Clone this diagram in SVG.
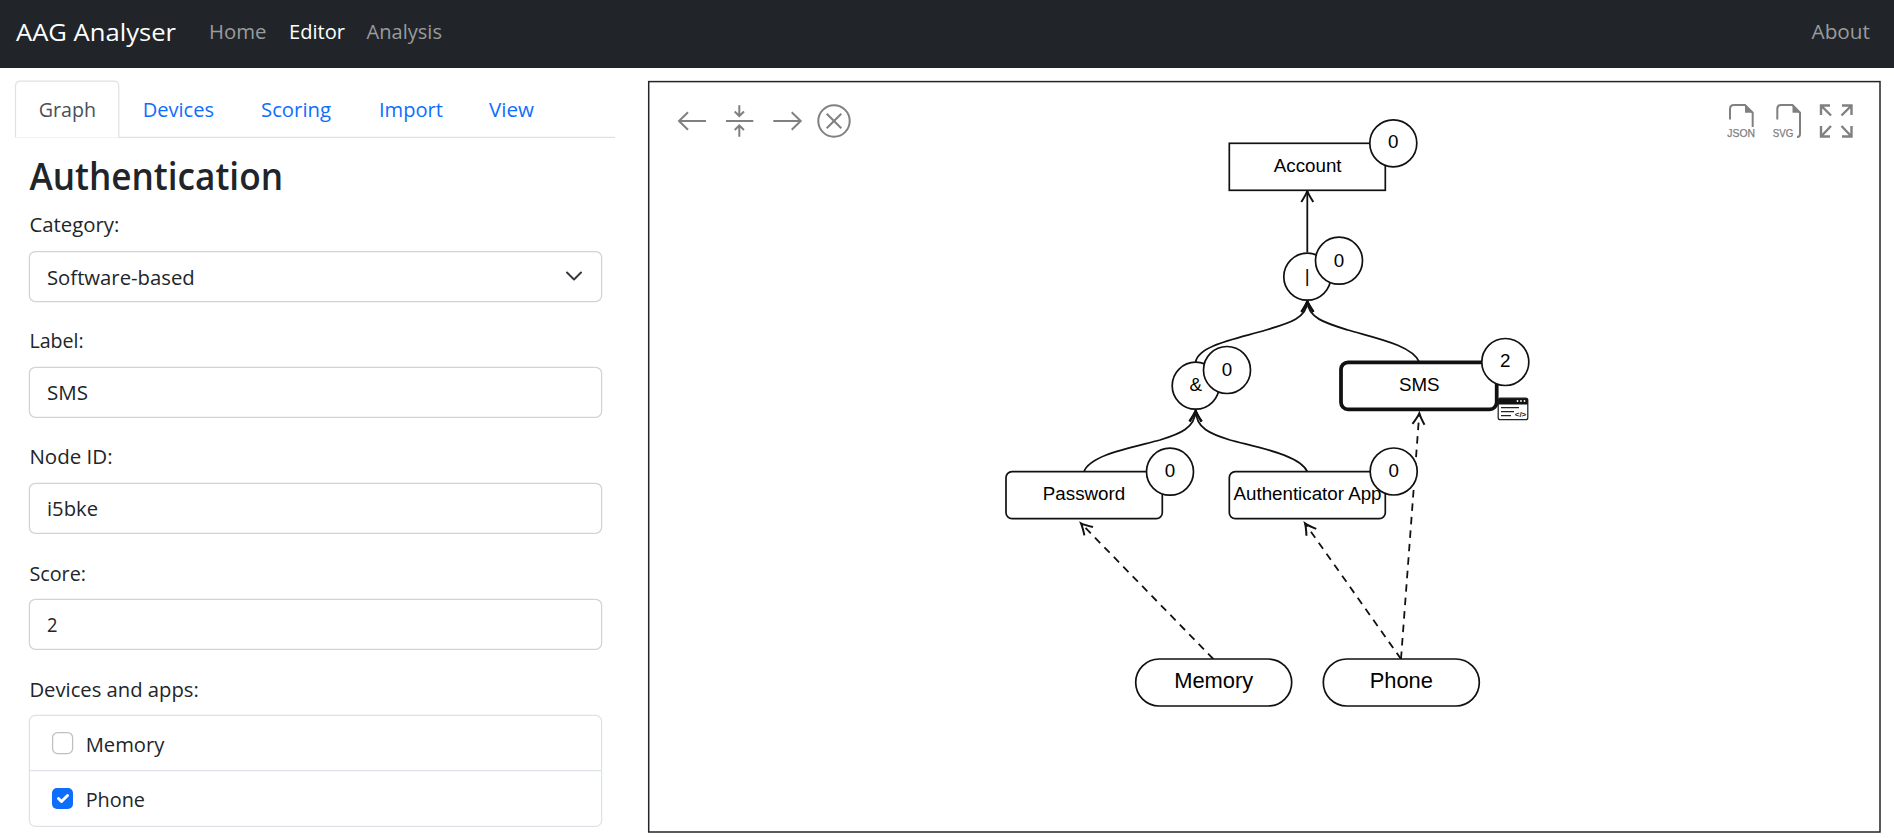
<svg xmlns="http://www.w3.org/2000/svg" width="1894" height="838" viewBox="0 0 1894 838">
<style>
.ui{font-family:"Open Sans","Noto Sans","Liberation Sans",sans-serif;font-size:19.6px;fill:#212529}
.nav{fill:#9a9b9d}
.tab{fill:#0d6efd}
.box{fill:#fff;stroke:#ced4da;stroke-width:1.25}
.ic{fill:none;stroke:#808080;stroke-width:2}
.icf{fill:#808080}
.ict{font-family:"Liberation Sans",Arial,sans-serif;font-size:10.5px;fill:#808080;stroke:#808080;stroke-width:.25}
.n{fill:#fff;stroke:#111;stroke-width:1.7}
.t{font-family:"Liberation Sans",Arial,sans-serif;font-size:18.75px;fill:#000;text-anchor:middle}
.t2{font-size:21.9px}
.e{fill:none;stroke:#111;stroke-width:1.8;marker-end:url(#a)}
.d{stroke-dasharray:7.5 6}
</style>
<defs>
<marker id="a" markerUnits="userSpaceOnUse" markerWidth="30" markerHeight="30" refX="15" refY="15" orient="auto" overflow="visible">
<path d="M4,9 Q11,13.5 15,15 Q11,16.5 4,21" fill="none" stroke="#111" stroke-width="2"/>
</marker>
</defs>
<rect width="1894" height="838" fill="#fff"/>
<g id="navbar">
<rect width="1894" height="68" fill="#212529"/>
<text class="ui" x="16" y="40.5" style="font-size:24.5px;fill:#fff" textLength="160" lengthAdjust="spacingAndGlyphs">AAG Analyser</text>
<text class="ui nav" x="209" y="39" textLength="57.5" lengthAdjust="spacingAndGlyphs">Home</text>
<text class="ui" x="289" y="39" style="fill:#fff" textLength="56" lengthAdjust="spacingAndGlyphs">Editor</text>
<text class="ui nav" x="366.5" y="39" textLength="75.5" lengthAdjust="spacingAndGlyphs">Analysis</text>
<text class="ui nav" x="1811.5" y="39.3" textLength="58.5" lengthAdjust="spacingAndGlyphs">About</text>
</g>
<g id="tabs">
<path d="M15.5,137.3 H615" fill="none" stroke="#dee2e6" stroke-width="1.25"/>
<path d="M15.5,137.5 V86 Q15.5,81 20.5,81 H113.8 Q118.8,81 118.8,86 V137.5" fill="#fff" stroke="#dee2e6" stroke-width="1.25"/>
<text class="ui" x="38.8" y="117" style="fill:#495057" textLength="57.2" lengthAdjust="spacingAndGlyphs">Graph</text>
<text class="ui tab" x="142.7" y="117" textLength="71.3" lengthAdjust="spacingAndGlyphs">Devices</text>
<text class="ui tab" x="261" y="117" textLength="70" lengthAdjust="spacingAndGlyphs">Scoring</text>
<text class="ui tab" x="379" y="117" textLength="64" lengthAdjust="spacingAndGlyphs">Import</text>
<text class="ui tab" x="489" y="117" textLength="45" lengthAdjust="spacingAndGlyphs">View</text>
</g>
<g id="form">
<text class="ui" x="29.4" y="190" style="font-size:38.5px;font-weight:600" textLength="253.6" lengthAdjust="spacingAndGlyphs">Authentication</text>
<text class="ui" x="29.4" y="231.7" textLength="90" lengthAdjust="spacingAndGlyphs">Category:</text>
<rect class="box" x="29.4" y="251.5" width="572.2" height="50" rx="6"/>
<text class="ui" x="47" y="285" textLength="147.7" lengthAdjust="spacingAndGlyphs">Software-based</text>
<path d="M567,272.5 L574,279.5 L581,272.5" fill="none" stroke="#343a40" stroke-width="2" stroke-linecap="round" stroke-linejoin="round"/>
<text class="ui" x="29.4" y="348" textLength="54.3" lengthAdjust="spacingAndGlyphs">Label:</text>
<rect class="box" x="29.4" y="367.3" width="572.2" height="50" rx="6"/>
<text class="ui" x="47" y="400" textLength="41" lengthAdjust="spacingAndGlyphs">SMS</text>
<text class="ui" x="29.4" y="463.7" textLength="83.2" lengthAdjust="spacingAndGlyphs">Node ID:</text>
<rect class="box" x="29.4" y="483.3" width="572.2" height="50" rx="6"/>
<text class="ui" x="47" y="516" textLength="51" lengthAdjust="spacingAndGlyphs">i5bke</text>
<text class="ui" x="29.4" y="581" textLength="56.6" lengthAdjust="spacingAndGlyphs">Score:</text>
<rect class="box" x="29.4" y="599.3" width="572.2" height="50" rx="6"/>
<text class="ui" x="47" y="632" textLength="10.5" lengthAdjust="spacingAndGlyphs">2</text>
<text class="ui" x="29.4" y="696.6" textLength="169.4" lengthAdjust="spacingAndGlyphs">Devices and apps:</text>
<rect x="29.4" y="715.4" width="572.2" height="111" rx="6" fill="#fff" stroke="#dee2e6" stroke-width="1.25"/>
<path d="M29.4,770.7 H601.6" stroke="#dee2e6" stroke-width="1.25"/>
<rect x="52.6" y="732.6" width="20" height="21" rx="5" fill="#fff" stroke="#bfbfbf" stroke-width="1.25"/>
<text class="ui" x="85.7" y="752" textLength="78.6" lengthAdjust="spacingAndGlyphs">Memory</text>
<rect x="52" y="788" width="21" height="21" rx="5" fill="#0d6efd"/>
<path d="M58.5,798.5 l3,3 6,-6" fill="none" stroke="#fff" stroke-width="3" stroke-linecap="round" stroke-linejoin="round"/>
<text class="ui" x="85.7" y="806.7" textLength="59.3" lengthAdjust="spacingAndGlyphs">Phone</text>
</g>
<rect id="canvas" x="648.7" y="81.6" width="1231.3" height="750.4" fill="#fff" stroke="#212529" stroke-width="1.5"/>
<g id="toolbar-left">
<path class="ic" d="M679,121 H706 M688,112.3 L679,121 L688,129.7"/>
<path class="ic" d="M726,121 H753.3 M739.3,105.3 V116 M734.7,111.5 L739.3,116 L744,111.5 M739.3,136.7 V125.5 M734.7,130 L739.3,125.5 L744,130"/>
<path class="ic" d="M773.3,121 H800.7 M791.7,112.3 L800.7,121 L791.7,129.7"/>
<circle class="ic" cx="834" cy="121" r="15.7"/>
<path class="ic" d="M826.7,113.7 L841.3,128.3 M841.3,113.7 L826.7,128.3"/>
</g>
<g id="toolbar-right">
<path class="ic" d="M1730,119.5 V109 Q1730,105 1734,105 H1745 L1752.7,112.7 V127"/>
<path class="icf" d="M1745,105 L1752.7,112.7 H1745 Z"/>
<text class="ict" x="1727.3" y="137.3" textLength="27.7" lengthAdjust="spacingAndGlyphs">JSON</text>
<path class="ic" d="M1777.3,119.5 V109 Q1777.3,105 1781,105 H1792.5 L1800,112.7 V134 Q1800,137 1797,137"/>
<path class="icf" d="M1792.5,105 L1800,112.7 H1792.5 Z"/>
<text class="ict" x="1772.7" y="137.3" textLength="20.6" lengthAdjust="spacingAndGlyphs">SVG</text>
<path class="ic" style="stroke-width:2.4" d="M1830,105.5 H1821 V115 M1821,105.5 L1831,115.5 M1842,105.5 H1851.5 V115 M1851.5,105.5 L1841.5,115.5 M1821,126 V136.5 H1830 M1821,136.5 L1831,126 M1851.5,126 V136.5 H1842 M1851.5,136.5 L1841.5,126"/>
</g>
<g id="connectors">
<path class="e" d="M1307.3,252.3 V191"/>
<path class="e" d="M1195.7,362 C1198,345 1240,338 1266,330 C1290,323 1307,318 1307.3,301"/>
<path class="e" d="M1419.3,362 C1412,345 1375,338 1348,330 C1325,323 1308,318 1307.3,301"/>
<path class="e" d="M1084,471.7 C1090,455 1130,448 1160,440 C1180,434 1195,428 1195.7,410.5"/>
<path class="e" d="M1307.3,471.7 C1300,455 1260,448 1230,440 C1210,434 1196,428 1195.7,410.5"/>
<path class="e d" d="M1213.3,659 L1081,523.3"/>
<path class="e d" d="M1401,659 L1305,523.3"/>
<path class="e d" d="M1401,659 L1419.3,413.3"/>
</g>
<g id="node-account">
<rect class="n" x="1229.3" y="143.3" width="156" height="47"/>
<text class="t" x="1307.7" y="171.7">Account</text>
<circle class="n" cx="1393.3" cy="143.3" r="23.5"/>
<text class="t" x="1393.3" y="147.8">0</text>
</g>
<g id="node-or">
<circle class="n" cx="1307.3" cy="276.7" r="23.5"/>
<text class="t" x="1307.3" y="281.5">|</text>
<circle class="n" cx="1339" cy="260.7" r="23.5"/>
<text class="t" x="1339" y="266.5">0</text>
</g>
<g id="node-and">
<circle class="n" cx="1195.7" cy="385.7" r="23.5"/>
<text class="t" x="1195.7" y="390.7">&amp;</text>
<circle class="n" cx="1227" cy="370" r="23.5"/>
<text class="t" x="1227" y="375.5">0</text>
</g>
<g id="node-sms">
<rect class="n" style="stroke-width:3.75" x="1341" y="362.3" width="155.7" height="47" rx="7"/>
<text class="t" x="1419.3" y="390.7">SMS</text>
<circle class="n" cx="1505.3" cy="362" r="23.5"/>
<text class="t" x="1505.3" y="367">2</text>
<rect x="1498.2" y="398.2" width="29.6" height="21.5" rx="2" fill="#fff" stroke="#222" stroke-width="1.25"/>
<path d="M1498.2,404.5 V400 Q1498.2,398.2 1500,398.2 H1526 Q1527.8,398.2 1527.8,400 V404.5 Z" fill="#111"/>
<circle cx="1517.5" cy="401" r="0.9" fill="#fff"/><circle cx="1521" cy="401" r="0.9" fill="#fff"/><circle cx="1524.5" cy="401" r="0.9" fill="#fff"/>
<path d="M1501,407.5 H1519 M1501,411.5 H1514 M1501,415.7 H1511" stroke="#222" stroke-width="1.25"/>
<text x="1520.5" y="417" style="font-family:'Liberation Sans',Arial,sans-serif;font-size:8px;font-weight:700;fill:#222;text-anchor:middle">&lt;/&gt;</text>
</g>
<g id="node-password">
<rect class="n" x="1006" y="471.7" width="156.3" height="47" rx="6"/>
<text class="t" x="1084" y="500">Password</text>
<circle class="n" cx="1170" cy="471.7" r="23.5"/>
<text class="t" x="1170" y="477">0</text>
</g>
<g id="node-authenticator">
<rect class="n" x="1229.3" y="471.7" width="156" height="47" rx="6"/>
<text class="t" x="1307.5" y="500">Authenticator App</text>
<circle class="n" cx="1393.7" cy="471.5" r="23.5"/>
<text class="t" x="1393.7" y="477">0</text>
</g>
<g id="node-memory">
<rect class="n" x="1135.7" y="659" width="156" height="47" rx="23.5"/>
<text class="t t2" x="1213.7" y="688.3">Memory</text>
</g>
<g id="node-phone">
<rect class="n" x="1323.3" y="659" width="156" height="47" rx="23.5"/>
<text class="t t2" x="1401.3" y="688.3">Phone</text>
</g>
</svg>
